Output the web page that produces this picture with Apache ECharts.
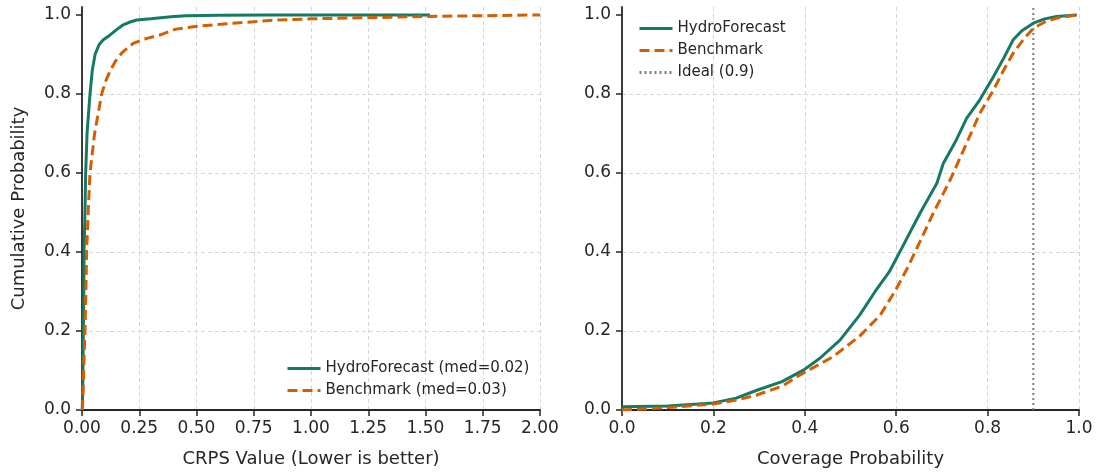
<!DOCTYPE html>
<html>
<head>
<meta charset="utf-8">
<script src="https://cdn.jsdelivr.net/npm/echarts@6/dist/echarts.min.js"></script>
<style>
html,body{margin:0;padding:0;background:#fff;}
#chart{width:1097px;height:474px;}
</style>
</head>
<body>
<div id="chart"></div>
<script>
// ---- Data ----
// Left panel: CRPS empirical CDF
const hydroCrps = [0.001,0.003,0.005,0.006,0.008,0.009,0.013,0.016,0.022,0.035,0.045,0.057,0.075,0.093,0.12,0.15,0.18,0.21,0.239,0.3,0.4,0.457,0.6,0.8,1.0,1.2,1.52];
const hydroCrpsProb = [0,0.05,0.15,0.2,0.3,0.4,0.5,0.6,0.7,0.8,0.86,0.9,0.925,0.937,0.948,0.962,0.975,0.982,0.987,0.99,0.996,0.998,0.999,1.0,1.0,1.0,1.0];
const benchCrps = [0.002,0.005,0.01,0.013,0.017,0.02,0.027,0.035,0.055,0.086,0.105,0.122,0.145,0.173,0.2,0.224,0.28,0.34,0.41,0.515,0.66,0.85,1.0,1.25,1.5,1.75,2.0];
const benchCrpsProb = [0,0.05,0.15,0.2,0.3,0.4,0.5,0.6,0.7,0.8,0.835,0.857,0.882,0.903,0.917,0.928,0.94,0.949,0.964,0.972,0.979,0.987,0.99,0.993,0.996,0.998,1.0];

// Right panel: coverage probability empirical CDF
const hydroCov = [0,0.003,0.1,0.2,0.25,0.295,0.35,0.397,0.433,0.477,0.52,0.554,0.585,0.612,0.652,0.689,0.703,0.73,0.754,0.783,0.813,0.835,0.856,0.875,0.9,0.925,0.951,0.995];
const hydroCovProb = [0,0.008,0.01,0.018,0.03,0.05,0.072,0.101,0.131,0.177,0.24,0.3,0.35,0.409,0.498,0.574,0.624,0.68,0.738,0.785,0.844,0.89,0.937,0.96,0.979,0.99,0.996,1.0];
const benchCov = [0,0.1,0.2,0.25,0.295,0.35,0.39,0.462,0.52,0.565,0.597,0.625,0.645,0.681,0.718,0.754,0.783,0.813,0.835,0.856,0.88,0.9,0.925,0.951,0.995];
const benchCovProb = [0,0.006,0.015,0.025,0.038,0.06,0.089,0.135,0.187,0.24,0.3,0.36,0.409,0.498,0.582,0.675,0.751,0.81,0.86,0.903,0.94,0.966,0.982,0.992,1.0];

const idealCoverage = 0.9;
const probTicks = [0, 0.2, 0.4, 0.6, 0.8, 1.0];
const crpsTicks = [0, 0.25, 0.5, 0.75, 1.0, 1.25, 1.5, 1.75, 2.0];
const covTicks = [0, 0.2, 0.4, 0.6, 0.8, 1.0];

const names = {
  hydroL: 'HydroForecast (med=0.02)',
  benchL: 'Benchmark (med=0.03)',
  hydroR: 'HydroForecast',
  benchR: 'Benchmark',
  ideal: 'Ideal (0.9)'
};

// ---- Styling ----
const GREEN = '#147a64';
const ORANGE = '#d55e00';
const TXT = '#262626';
const FONT = 'DejaVu Sans';

const zip = (xs, ys) => xs.map((x, i) => [x, ys[i]]);

function xAxisCfg(idx, max, interval, ticks, digits, name) {
  return {
    type: 'value', gridIndex: idx, min: 0, max: max, interval: interval,
    name: name, nameLocation: 'middle', nameGap: 40,
    nameTextStyle: {color: TXT, fontFamily: FONT, fontSize: 18},
    axisLine: {show: true, onZero: false, lineStyle: {color: TXT, width: 1.8}},
    axisTick: {show: true, length: 6, lineStyle: {color: TXT, width: 1.5}, customValues: ticks},
    axisLabel: {color: TXT, fontFamily: FONT, fontSize: 17, margin: 10, customValues: ticks,
      formatter: v => v.toFixed(digits)},
    splitLine: {show: true, lineStyle: {color: '#d6d6d6', type: [4, 3], width: 1}}
  };
}
function yAxisCfg(idx, name) {
  return {
    type: 'value', gridIndex: idx, min: 0, max: 1.02, interval: 0.2,
    name: name, nameLocation: 'middle', nameGap: 54,
    nameTextStyle: {color: TXT, fontFamily: FONT, fontSize: 18},
    axisLine: {show: true, onZero: false, lineStyle: {color: TXT, width: 1.8}},
    axisTick: {show: true, length: 6, lineStyle: {color: TXT, width: 1.5}, customValues: probTicks},
    axisLabel: {color: TXT, fontFamily: FONT, fontSize: 17, margin: 11, customValues: probTicks,
      formatter: v => v.toFixed(1)},
    splitLine: {show: true, showMaxLine: false, lineStyle: {color: '#d6d6d6', type: [4, 3], width: 1}}
  };
}

function lineSeries(name, xi, data, color, type, width) {
  return {
    name: name, type: 'line', xAxisIndex: xi, yAxisIndex: xi,
    data: data, showSymbol: false, symbol: 'none', silent: true, animation: false,
    lineStyle: {color: color, width: width, type: type},
    itemStyle: {color: color}, z: 3
  };
}

const legendBase = {
  orient: 'vertical', itemWidth: 33, itemHeight: 12, itemGap: 7,
  textStyle: {color: TXT, fontFamily: FONT, fontSize: 15},
  itemStyle: {opacity: 0},
  lineStyle: {width: 3},
  selectedMode: false
};

const chart = echarts.init(document.getElementById('chart'), null, {renderer: 'canvas'});
chart.setOption({
  backgroundColor: '#ffffff',
  animation: false,
  grid: [
    {left: 82, top: 7, width: 458, height: 403},
    {left: 622, top: 7, width: 457, height: 403}
  ],
  xAxis: [
    xAxisCfg(0, 2, 0.25, crpsTicks, 2, 'CRPS Value (Lower is better)'),
    xAxisCfg(1, 1, 0.2, covTicks, 1, 'Coverage Probability')
  ],
  yAxis: [
    yAxisCfg(0, 'Cumulative Probability'),
    yAxisCfg(1, '')
  ],
  legend: [
    Object.assign({}, legendBase, {data: [names.hydroL, names.benchL], left: 281, top: 356}),
    Object.assign({}, legendBase, {data: [names.hydroR, names.benchR, names.ideal], left: 633, top: 16})
  ],
  series: [
    lineSeries(names.hydroL, 0, zip(hydroCrps, hydroCrpsProb), GREEN, 'solid', 3),
    lineSeries(names.benchL, 0, zip(benchCrps, benchCrpsProb), ORANGE, [10, 5], 3),
    lineSeries(names.ideal, 1, [[idealCoverage, 0], [idealCoverage, 1.02]], '#7f7f7f', [2, 3], 2),
    lineSeries(names.hydroR, 1, zip(hydroCov, hydroCovProb), GREEN, 'solid', 3),
    lineSeries(names.benchR, 1, zip(benchCov, benchCovProb), ORANGE, [10, 5], 3)
  ]
});
</script>
</body>
</html>
